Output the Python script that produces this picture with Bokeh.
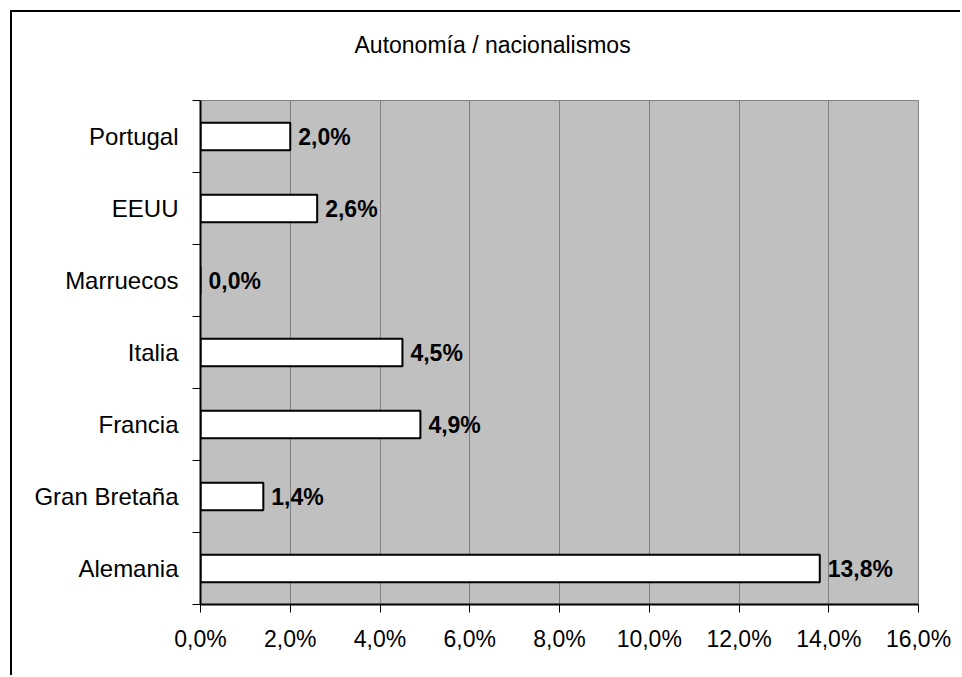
from bokeh.plotting import figure
from bokeh.models import FixedTicker, Title, ColumnDataSource, Range1d
from bokeh.embed import file_html
from bokeh.resources import INLINE
from bokeh.core.properties import value

# ---- data ----
categories = ["Portugal", "EEUU", "Marruecos", "Italia", "Francia", "Gran Bretaña", "Alemania"]
values = [2.0, 2.6, 0.0, 4.5, 4.9, 1.4, 13.8]
x_ticks = [0, 2, 4, 6, 8, 10, 12, 14, 16]
x_tick_labels = ["0,0%", "2,0%", "4,0%", "6,0%", "8,0%", "10,0%", "12,0%", "14,0%", "16,0%"]
title_text = "Autonomía / nacionalismos"

FONT = "Liberation Sans"

n = len(categories)
ypos = [n - 1 - i + 0.5 for i in range(n)]
labels = [f"{v:.1f}%".replace(".", ",") for v in values]
src = ColumnDataSource(dict(cat=categories, y=ypos, v=values, lab=labels))

p = figure(frame_width=718, frame_height=504,
           x_range=Range1d(x_ticks[0], x_ticks[-1]), y_range=Range1d(0, n),
           output_backend="svg", toolbar_location=None,
           min_border_left=188, min_border_top=88, min_border_right=42, min_border_bottom=71)

p.styles = {"border-left": "2px solid black", "border-top": "2px solid black",
            "margin-left": "10px", "margin-top": "10px"}

p.background_fill_color = "#C0C0C0"
p.border_fill_color = "white"
p.outline_line_color = "#808080"
p.outline_line_width = 1

p.hbar(y="y", left=0, right="v", height=0.38, fill_color="white",
       line_color="black", line_width=2, source=src)

p.text(x="v", y="y", text="lab", x_offset=8, text_baseline="middle",
       text_font=value(FONT), text_font_style="bold", text_font_size="23px",
       text_color="black", source=src)

# x axis
p.xaxis.ticker = FixedTicker(ticks=x_ticks)
p.xaxis.major_label_overrides = dict(zip(x_ticks, x_tick_labels))
p.xaxis.major_tick_out = 8
p.xaxis.major_tick_in = 0
p.xaxis.minor_tick_line_color = None
p.xaxis.axis_line_width = 2
p.xaxis.major_label_text_font = FONT
p.xaxis.major_label_text_font_size = "23px"
p.xaxis.major_label_text_color = "black"
p.xaxis.major_label_standoff = 13

# y axis
p.yaxis.ticker = FixedTicker(ticks=ypos, minor_ticks=list(range(n + 1)))
p.yaxis.major_label_overrides = dict(zip(ypos, categories))
p.yaxis.major_tick_out = 0
p.yaxis.major_tick_in = 0
p.yaxis.major_tick_line_color = None
p.yaxis.minor_tick_out = 8
p.yaxis.minor_tick_in = 0
p.yaxis.minor_tick_line_color = "black"
p.yaxis.axis_line_width = 2
p.yaxis.major_label_text_font = FONT
p.yaxis.major_label_text_font_size = "24px"
p.yaxis.major_label_text_color = "black"
p.yaxis.major_label_standoff = 14

p.xgrid.ticker = FixedTicker(ticks=x_ticks)
p.xgrid.grid_line_color = "#808080"
p.xgrid.grid_line_width = 1
p.ygrid.grid_line_color = None

# spacer between frame and title (empty, tiny)
p.add_layout(Title(text=" ", text_font_size="1px", standoff=35), "above")
p.add_layout(Title(text=title_text, align="left", offset=154,
                   text_font=FONT, text_font_size="23px", text_font_style="normal",
                   text_color="black", standoff=10), "above")

open("out.html", "w").write(file_html(p, INLINE))
